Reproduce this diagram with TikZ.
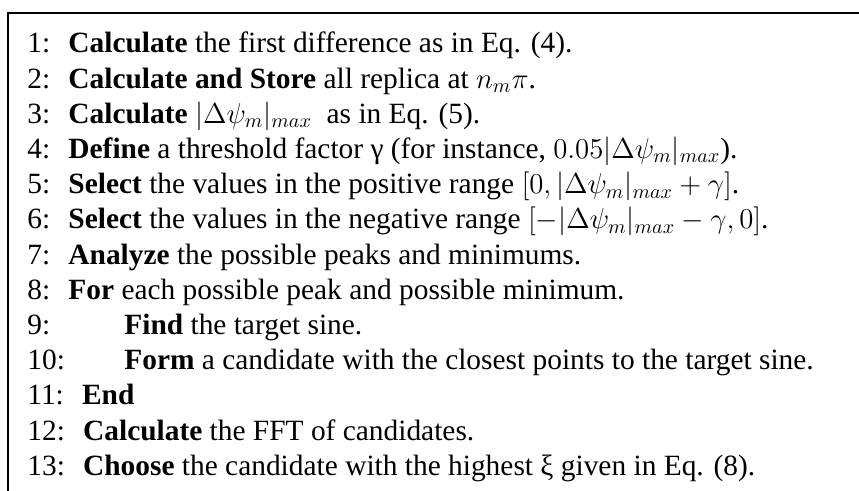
\documentclass[tikz,border=0pt]{standalone}
\usepackage{fontspec}
\setmainfont{Liberation Serif}
\usetikzlibrary{positioning}
\tikzset{
    frame/.style={line width=1.2pt, line join=miter},
    stepnum/.style={anchor=base west, inner sep=0pt, font=\fontsize{14.7}{17}\selectfont},
    steptext/.style={anchor=base west, inner sep=0pt, font=\fontsize{14.7}{17}\selectfont},
}
% one numbered step: #1 number, #2 baseline, #3 text
\newcommand{\algStep}[3]{
    \node[stepnum] (n#1) at (27,#2) {#1:};
    \node[steptext, base right=8.7pt of n#1] (t#1) {#3};
}
% step inside the loop, text on the tab stop
\newcommand{\algSubStep}[3]{
    \node[stepnum] (n#1) at (27,#2) {#1:};
    \node[steptext] (t#1) at (124,#2) {#3};
}
\newcommand{\dpsi}{|\Delta\psi_m|_{max}}

\begin{document}
\begin{tikzpicture}[x=0.5pt, y=-0.5pt]
    \useasboundingbox (0,0) rectangle (859,491);

    % frame, open at the right and bottom
    \draw[frame] (8,491) -- (8,13) -- (859,13);

    % 1.-3.
    \algStep{1}{53}{\textbf{Calculate} the first difference as in Eq. (4).}
    \algStep{2}{88.2}{\textbf{Calculate and Store} all replica at $n_m\pi$.}
    \algStep{3}{123.4}{\textbf{Calculate} $\dpsi$ \ as in Eq. (5).}

    % 4.-6.
    \algStep{4}{158.6}{\textbf{Define} a threshold factor γ (for instance, $0.05\dpsi$).}
    \algStep{5}{193.8}{\textbf{Select} the values in the positive range $[0,\dpsi+\gamma]$.}
    \algStep{6}{229}{\textbf{Select} the values in the negative range $[-\dpsi-\gamma,0]$.}

    % 7.-8.
    \algStep{7}{264.2}{\textbf{Analyze} the possible peaks and minimums.}
    \algStep{8}{299.4}{\textbf{For} each possible peak and possible minimum.}

    % 9.-10. loop body
    \algSubStep{9}{334.6}{\textbf{Find} the target sine.}
    \algSubStep{10}{369.8}{\textbf{Form} a candidate with the closest points to the target sine.}

    % 11.-13.
    \algStep{11}{405}{\textbf{End}}
    \algStep{12}{440.2}{\textbf{Calculate} the FFT of candidates.}
    \algStep{13}{475.4}{\textbf{Choose} the candidate with the highest ξ given in Eq. (8).}

\end{tikzpicture}
\end{document}
